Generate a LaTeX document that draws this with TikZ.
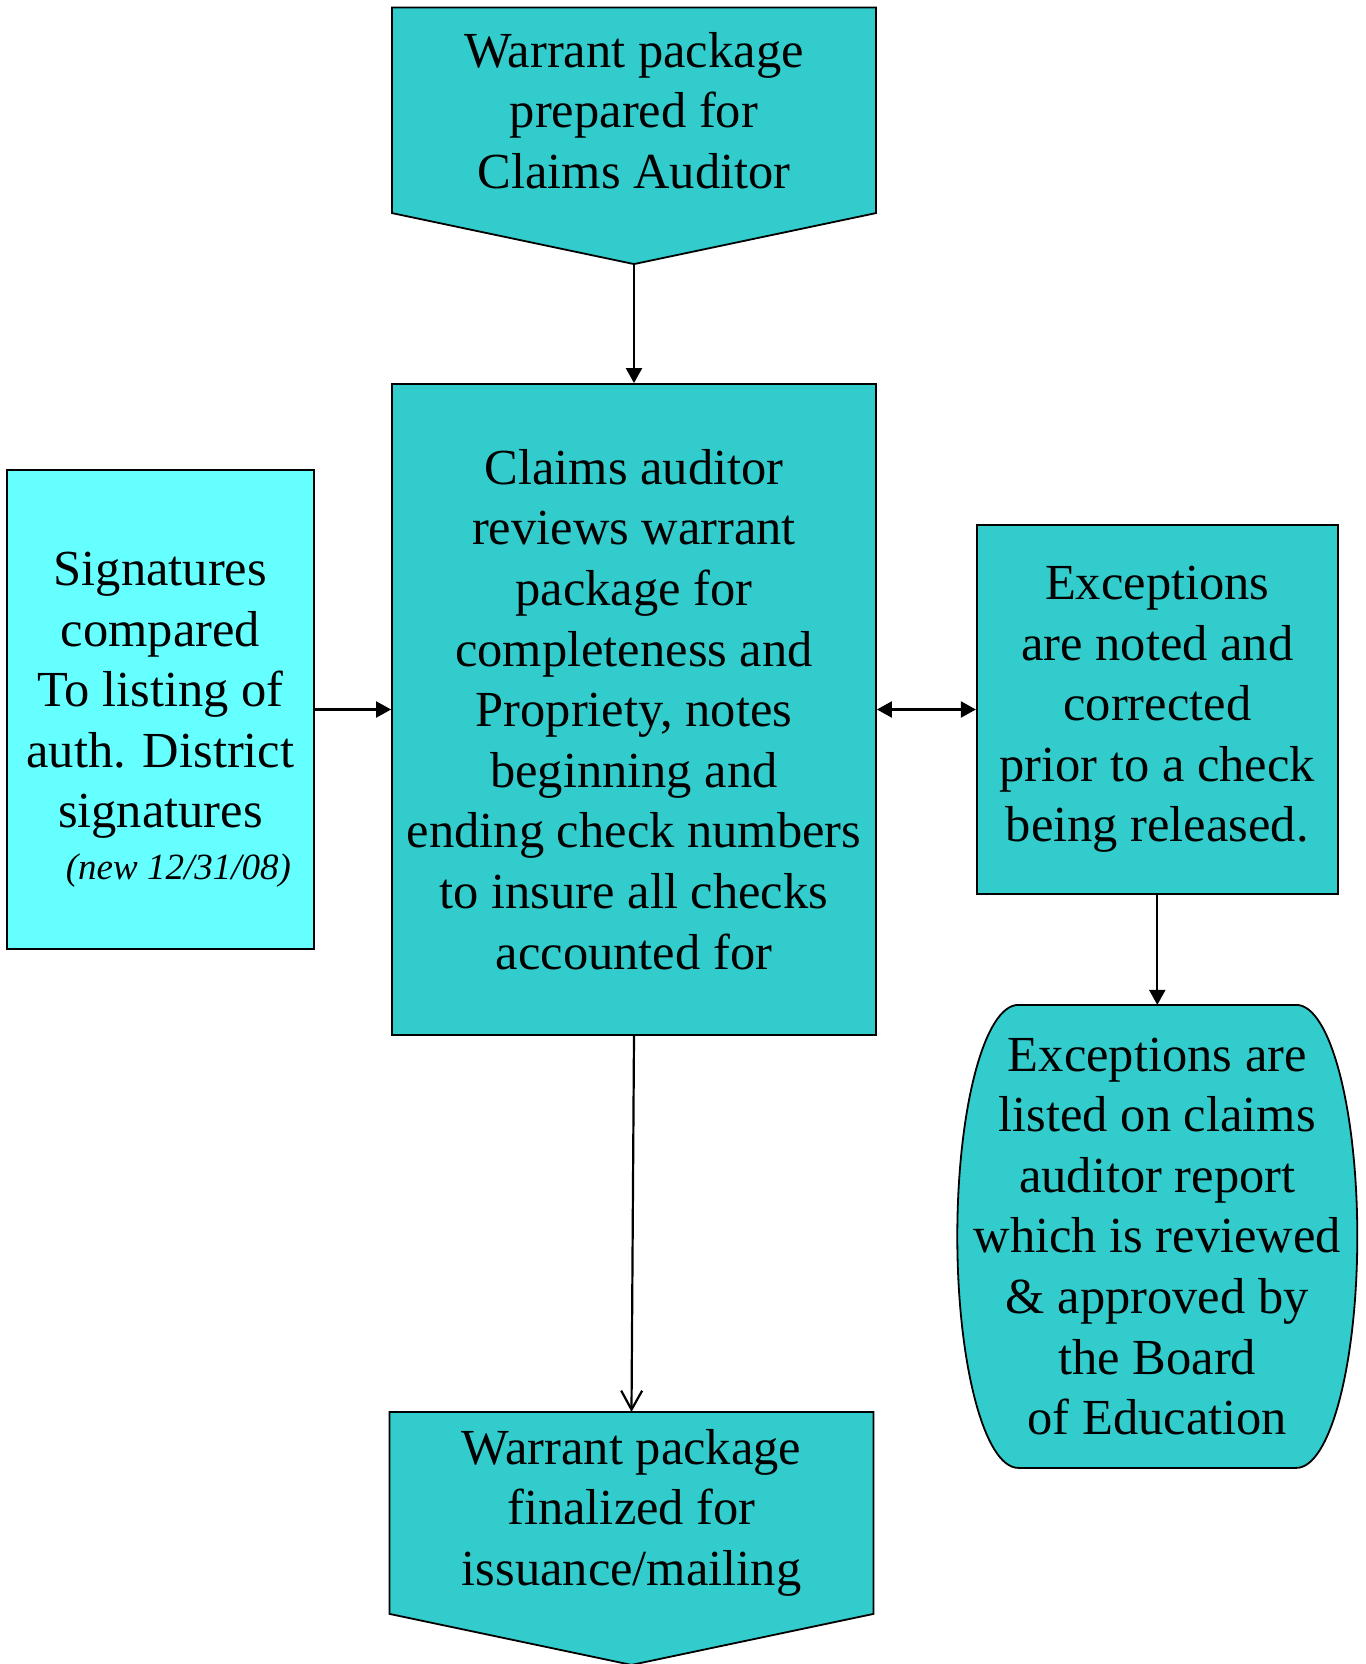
\documentclass[tikz,border=0pt]{standalone}
\usepackage{fontspec}
\setmainfont{Liberation Serif}
\usetikzlibrary{arrows.meta,positioning,backgrounds}
\definecolor{auditteal}{RGB}{51,204,204}
\definecolor{sigcyan}{RGB}{102,255,255}

\begin{document}
\begin{tikzpicture}[
    font=\fontsize{50.5}{60.6}\selectfont,
    procbox/.style={rectangle, draw, line width=1.8pt, fill=auditteal, align=center, inner sep=0pt},
    cyanbox/.style={procbox, fill=sigcyan},
    pentbox/.style={rectangle, align=center, inner sep=0pt, outer sep=0pt, minimum width=484pt},
    barrel/.style={rectangle, align=center, inner sep=0pt, outer sep=0pt, minimum height=463pt},
    shapeline/.style={draw, line width=1.8pt, fill=auditteal},
    arrow/.style={-{Triangle[length=15pt,width=16pt]}, line width=2.2pt},
    openarrow/.style={-{Straight Barb[length=19pt,width=21pt]}, line width=2.2pt},
    bothways/.style={{Triangle[length=15pt,width=16pt]}-{Triangle[length=15pt,width=16pt]}, line width=2.2pt}
]
    \useasboundingbox (-634pt,-954.5pt) rectangle (731pt,709.5pt);

    \node[procbox, minimum width=484pt, minimum height=651pt] (review) at (0,0)
        {Claims auditor\\reviews warrant\\package for\\completeness and\\Propriety, notes\\beginning and\\ending check numbers\\to insure all checks\\accounted for};
    \node[pentbox, minimum height=205.5pt, above=170pt of review] (prep)
        {Warrant package\\prepared for\\Claims Auditor};
    \coordinate (preptip) at ([yshift=-51pt]prep.south);
    \node[cyanbox, minimum width=307.5pt, minimum height=479pt, left=76pt of review] (sigs)
        {\rule{0pt}{54pt}Signatures\\compared\\To listing of\\auth. District\\signatures\\[-9pt]{\itshape\fontsize{37}{44}\selectfont\hspace*{36pt}(new 12/31/08)}};
    \node[procbox, minimum width=361pt, minimum height=369pt, right=99pt of review] (except)
        {Exceptions\\are noted and\\corrected\\prior to a check\\being released.};
    \node[barrel, below=110pt of except] (listed)
        {Exceptions are\\listed on claims\\auditor report\\which is reviewed\\\& approved by\\the Board\\of Education};
    \node[pentbox, minimum height=202pt, below=376pt of review, xshift=-2.5pt] (final)
        {Warrant package\\finalized for\\issuance/mailing};
    \coordinate (finaltip) at ([yshift=-51pt]final.south);

    % outlines behind the text
    \begin{scope}[on background layer]
        \draw[shapeline] (prep.north west) -- (prep.north east) -- (prep.south east) -- (preptip) -- (prep.south west) -- cycle;
        \draw[shapeline] (final.north west) -- (final.north east) -- (final.south east) -- (finaltip) -- (final.south west) -- cycle;
        \draw[shapeline] (listed.north) ++(-139pt,0) -- ++(278pt,0)
            arc[start angle=90, end angle=-90, x radius=61pt, y radius=231.5pt] -- ++(-278pt,0)
            arc[start angle=270, end angle=90, x radius=61pt, y radius=231.5pt] -- cycle;
    \end{scope}

    \draw[arrow] (preptip) -- (review.north);
    \draw[arrow] (sigs.east) -- (review.west);
    \draw[bothways] (review.east) -- (except.west);
    \draw[arrow] (except.south) -- (listed.north);
    \draw[openarrow] (review.south) -- (final.north);
\end{tikzpicture}
\end{document}
